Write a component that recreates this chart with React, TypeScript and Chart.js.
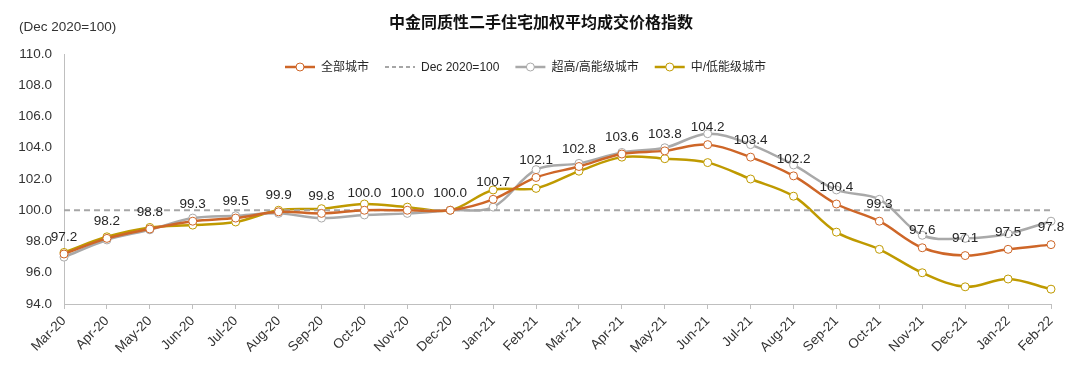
import React, { useEffect, useRef } from 'react';
import { Chart, registerables } from 'chart.js';

Chart.register(...registerables);

const chartTitle = '中金同质性二手住宅加权平均成交价格指数';
const unitNote = '(Dec 2020=100)';

const categories = [
  'Mar-20', 'Apr-20', 'May-20', 'Jun-20', 'Jul-20', 'Aug-20', 'Sep-20', 'Oct-20',
  'Nov-20', 'Dec-20', 'Jan-21', 'Feb-21', 'Mar-21', 'Apr-21', 'May-21', 'Jun-21',
  'Jul-21', 'Aug-21', 'Sep-21', 'Oct-21', 'Nov-21', 'Dec-21', 'Jan-22', 'Feb-22',
];

const seriesNames = ['全部城市', 'Dec 2020=100', '超高/高能级城市', '中/低能级城市'];

const allCities = [
  97.2, 98.2, 98.8, 99.3, 99.5, 99.9, 99.8, 100.0, 100.0, 100.0, 100.7, 102.1,
  102.8, 103.6, 103.8, 104.2, 103.4, 102.2, 100.4, 99.3, 97.6, 97.1, 97.5, 97.8,
];

const highTier = [
  97.0, 98.1, 98.75, 99.5, 99.65, 99.8, 99.5, 99.7, 99.8, 100.0, 100.2, 102.6,
  103.0, 103.7, 104.0, 104.9, 104.2, 102.9, 101.3, 100.7, 98.4, 98.2, 98.5, 99.3,
];

const lowTier = [
  97.3, 98.3, 98.9, 99.05, 99.25, 100.0, 100.1, 100.4, 100.2, 100.0, 101.3, 101.4,
  102.5, 103.4, 103.3, 103.05, 102.0, 100.9, 98.6, 97.5, 96.0, 95.1, 95.6, 94.95,
];

const baselineValue = 100;
const yMin = 94;
const yMax = 110;
const yStep = 2;

const colors = ['#CE6628', '#A6A6A6', '#A9A9A9', '#BF9A00'];

const LATIN = '"Liberation Sans", Arial, "Noto Sans CJK SC", sans-serif';
const CJK = '"Liberation Sans", "Noto Sans CJK SC", sans-serif';

const textPlugin = {
  id: 'customText',
  afterDatasetsDraw(chart: any) {
    const ctx = chart.ctx;
    const meta = chart.getDatasetMeta(0);
    ctx.save();
    ctx.font = `13.5px ${LATIN}`;
    ctx.fillStyle = '#262626';
    ctx.textAlign = 'center';
    ctx.textBaseline = 'middle';
    meta.data.forEach((pt: any, i: number) => {
      ctx.fillText(allCities[i].toFixed(1), pt.x, pt.y - 17);
    });
    ctx.restore();
  },
  afterDraw(chart: any) {
    const ctx = chart.ctx;
    ctx.save();
    ctx.font = `bold 16px "Noto Sans CJK SC", sans-serif`;
    ctx.fillStyle = '#111';
    ctx.textAlign = 'center';
    ctx.textBaseline = 'middle';
    ctx.fillText(chartTitle, 541, 22);
    ctx.font = `13.5px ${LATIN}`;
    ctx.fillStyle = '#333';
    ctx.textAlign = 'left';
    ctx.fillText(unitNote, 19, 27);

    ctx.font = `12px ${CJK}`;
    const symW = 30;
    const gap = 6;
    const itemGap = 16;
    const widths = seriesNames.map((n) => symW + gap + ctx.measureText(n).width);
    let x = 285;
    const y = 67;
    seriesNames.forEach((name, i) => {
      const c = colors[i];
      ctx.save();
      ctx.strokeStyle = c;
      if (i === 1) {
        ctx.lineWidth = 2;
        ctx.setLineDash([4, 3]);
      } else {
        ctx.lineWidth = 2.5;
      }
      ctx.beginPath();
      ctx.moveTo(x, y);
      ctx.lineTo(x + symW, y);
      ctx.stroke();
      ctx.setLineDash([]);
      if (i !== 1) {
        ctx.beginPath();
        ctx.arc(x + symW / 2, y, 4, 0, Math.PI * 2);
        ctx.fillStyle = '#fff';
        ctx.fill();
        ctx.lineWidth = 1;
        ctx.stroke();
      }
      ctx.restore();
      ctx.fillStyle = '#262626';
      ctx.textAlign = 'left';
      ctx.textBaseline = 'middle';
      ctx.fillText(name, x + symW + gap, y + 1);
      x += widths[i] + itemGap;
    });
    ctx.restore();
  },
};

export default function App() {
  const ref = useRef<HTMLCanvasElement | null>(null);

  useEffect(() => {
    if (!ref.current) return;
    const lineDs = (label: string, data: number[], color: string) => ({
      label,
      data,
      borderColor: color,
      backgroundColor: color,
      borderWidth: 2.5,
      tension: 0.35,
      pointRadius: 4,
      pointBackgroundColor: '#ffffff',
      pointBorderColor: color,
      pointBorderWidth: 1,
      fill: false,
    });
    const chart = new Chart(ref.current, {
      type: 'line',
      data: {
        labels: categories,
        datasets: [
          lineDs(seriesNames[0], allCities, colors[0]),
          {
            label: seriesNames[1],
            data: categories.map(() => baselineValue),
            borderColor: colors[1],
            borderWidth: 2,
            borderDash: [6, 4],
            pointRadius: 0,
            fill: false,
          },
          lineDs(seriesNames[2], highTier, colors[2]),
          lineDs(seriesNames[3], lowTier, colors[3]),
        ],
      },
      options: {
        responsive: false,
        animation: false,
        layout: { padding: { left: 0, top: 54, right: 29, bottom: 0 } },
        plugins: {
          legend: { display: false },
          title: { display: false },
          tooltip: { enabled: false },
        },
        scales: {
          x: {
            offset: false,
            grid: {
              display: true,
              drawOnChartArea: false,
              drawTicks: true,
              tickLength: 5,
              color: '#BFBFBF',
            },
            border: { display: true, color: '#BFBFBF', width: 1 },
            ticks: {
              autoSkip: false,
              minRotation: 45,
              maxRotation: 45,
              padding: 4,
              color: '#333',
              font: { size: 13.5, family: LATIN },
            },
            afterFit(scale: any) {
              scale.height = 65;
            },
          },
          y: {
            min: yMin,
            max: yMax,
            grid: { display: true, drawOnChartArea: false, drawTicks: false },
            border: { display: true, color: '#BFBFBF', width: 1 },
            ticks: {
              stepSize: yStep,
              padding: 12,
              color: '#333',
              font: { size: 13.5, family: LATIN },
              callback: (v: any) => Number(v).toFixed(1),
            },
            afterFit(scale: any) {
              scale.width = 64;
            },
          },
        },
      },
      plugins: [textPlugin],
    });
    return () => chart.destroy();
  }, []);

  return (
    <div style={{ position: 'absolute', left: 0, top: 0, width: 1080, height: 369, background: '#fff' }}>
      <canvas ref={ref} width={1080} height={369} style={{ width: 1080, height: 369 }} />
    </div>
  );
}
